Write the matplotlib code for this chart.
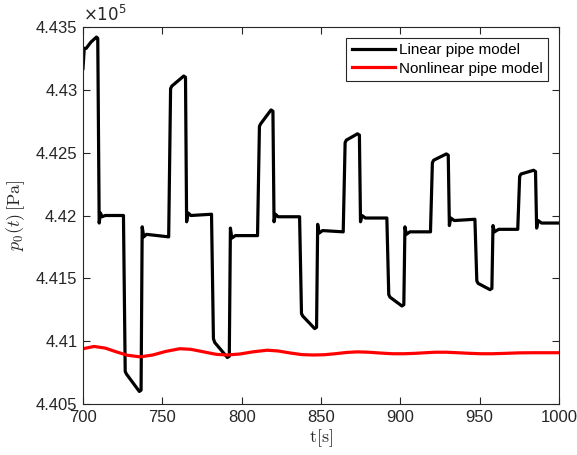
import matplotlib
matplotlib.use("Agg")
import matplotlib.pyplot as plt

plt.rcParams['font.family'] = ['Liberation Sans', 'DejaVu Sans']
plt.rcParams['mathtext.fontset'] = 'cm'

# Linear pipe model (pressure in units of 1e5 Pa)
t_lin = [700, 700.8, 702, 705, 708.5, 709.3, 710.2, 711, 712, 714, 725.5,
         726.6, 727.3, 735.5, 736.6, 737.3, 738.3, 740, 754,
         755.2, 756, 763.5, 764.6, 765.3, 766.3, 768, 781,
         782.2, 783, 791, 792.2, 792.9, 793.8, 796, 810,
         811.2, 812, 818.5, 819.7, 820.4, 821.3, 823, 836.5,
         837.7, 838.5, 846, 847.2, 847.9, 848.8, 851, 864,
         865.2, 866, 873, 874.2, 874.9, 875.8, 878, 891.5,
         892.7, 893.5, 901, 902.2, 902.9, 903.8, 906, 919,
         920.2, 921, 929, 930.2, 930.9, 931.8, 934, 947,
         948.2, 949, 956.5, 957.7, 958.4, 959.3, 962, 974,
         975.2, 976, 984, 985.2, 985.9, 986.8, 989, 1000]
p_lin = [4.4317, 4.4333, 4.4333, 4.4338, 4.4342, 4.4341, 4.4194, 4.4202, 4.4199, 4.4200, 4.4200,
         4.4076, 4.4074, 4.4060, 4.4061, 4.4191, 4.4183, 4.4185, 4.4183,
         4.4301, 4.4303, 4.4311, 4.4310, 4.4195, 4.4202, 4.4200, 4.4201,
         4.4102, 4.4099, 4.4087, 4.4088, 4.4190, 4.4182, 4.4184, 4.4184,
         4.4271, 4.4273, 4.4284, 4.4283, 4.4195, 4.4201, 4.4199, 4.4199,
         4.4122, 4.4120, 4.4110, 4.4111, 4.4193, 4.4186, 4.4188, 4.4187,
         4.4258, 4.4260, 4.4265, 4.4264, 4.4195, 4.4200, 4.4198, 4.4198,
         4.4137, 4.4135, 4.4128, 4.4129, 4.4191, 4.4185, 4.4187, 4.4187,
         4.4242, 4.4244, 4.4249, 4.4248, 4.4192, 4.4198, 4.4196, 4.4197,
         4.4148, 4.4146, 4.4141, 4.4142, 4.4192, 4.4187, 4.4189, 4.4189,
         4.4231, 4.4233, 4.4236, 4.4235, 4.4190, 4.4196, 4.4194, 4.4194]

# Nonlinear pipe model
t_nl = [700, 707, 714, 721, 728, 736, 744, 752, 761, 768, 776, 784, 791, 799,
        807, 816, 823, 831, 838, 845, 852, 859, 866, 873, 880, 888, 895, 902,
        909, 916, 922, 929, 936, 944, 951, 958, 966, 975, 985, 1000]
p_nl = [4.40940, 4.40958, 4.40945, 4.40915, 4.40888, 4.40875, 4.40890, 4.40918,
        4.40940, 4.40935, 4.40915, 4.40895, 4.40890, 4.40898, 4.40915, 4.40928,
        4.40922, 4.40905, 4.40893, 4.40890, 4.40892, 4.40900, 4.40910, 4.40915,
        4.40912, 4.40905, 4.40900, 4.40900, 4.40903, 4.40908, 4.40912, 4.40912,
        4.40908, 4.40903, 4.40900, 4.40900, 4.40903, 4.40907, 4.40908, 4.40908]

xticks = [700, 750, 800, 850, 900, 950, 1000]
yticks = [4.405, 4.41, 4.415, 4.42, 4.425, 4.43, 4.435]
yticklabels = ['4.405', '4.41', '4.415', '4.42', '4.425', '4.43', '4.435']

fig = plt.figure(figsize=(5.77, 4.55), dpi=100)
ax = fig.add_axes([83/577, 1-404/455, (559-83)/577, (404-27)/455])

ax.plot(t_lin, p_lin, color='black', lw=2.3, label='Linear pipe model', solid_joinstyle='round')
ax.plot(t_nl, p_nl, color='#ff0000', lw=2.3, label='Nonlinear pipe model')

ax.set_xlim(700, 1000)
ax.set_ylim(4.405, 4.435)
ax.set_xticks(xticks)
ax.set_xticklabels([str(x) for x in xticks])
ax.set_yticks(yticks)
ax.set_yticklabels(yticklabels)

axc = '#262626'
for s in ax.spines.values():
    s.set_color(axc)
    s.set_linewidth(0.8)
ax.tick_params(direction='in', top=True, right=True, length=5, width=0.8,
               color=axc, labelsize=12, labelcolor=axc, pad=4)

ax.set_xlabel(r'$\mathrm{t}[\mathrm{s}]$', fontsize=13, color=axc, labelpad=2)
ax.set_ylabel(r'$p_0(t)\,[\mathrm{Pa}]$', fontsize=13, color=axc, labelpad=6)

ax.text(0.0, 1.005, r'$\times10^5$', transform=ax.transAxes, fontsize=12,
        color=axc, ha='left', va='bottom', family=['DejaVu Sans'],
        math_fontfamily='dejavusans')

leg = ax.legend(loc='upper right', fontsize=11, handlelength=2.8, fancybox=False,
                framealpha=1, edgecolor=axc, borderaxespad=0.7, handletextpad=0.3,
                labelspacing=0.3, borderpad=0.35)
leg.get_frame().set_linewidth(0.8)

fig.savefig('out.png', dpi=100)
